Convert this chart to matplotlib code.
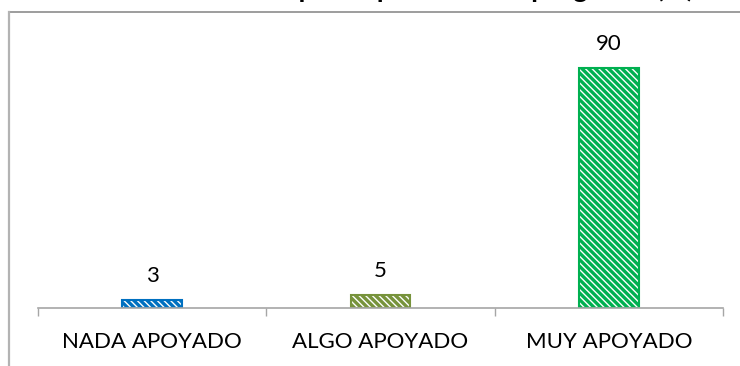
import matplotlib.pyplot as plt
from matplotlib.lines import Line2D

categories = ['NADA APOYADO', 'ALGO APOYADO', 'MUY APOYADO']
values = [3, 5, 90]
colors = ['#0070C0', '#77933C', '#00B050']
title = 'Grado de participación en el programa (%)'

W, H = 740, 366
plt.rcParams['font.family'] = ['Lato', 'DejaVu Sans']
plt.rcParams['hatch.linewidth'] = 2.4

fig = plt.figure(figsize=(W / 100, H / 100), dpi=100)

# chart area border (only top and left edges fall inside the picture)
fig.add_artist(Line2D([9 / W, 1.0], [1 - 12 / H, 1 - 12 / H], color='#8c8c8c', lw=1.2))
fig.add_artist(Line2D([9 / W, 9 / W], [0.0, 1 - 12 / H], color='#b3b3b3', lw=1.6))

# title, cut off by the top edge
fig.text(178 / W, 1 + 3.5 / H, title, ha='left', va='baseline',
         fontsize=20, fontweight='bold')

ax = fig.add_axes([38 / W, 58 / H, (723 - 38) / W, (308 - 41) / H])
x = range(len(categories))
bars = ax.bar(x, values, width=0.26, color='white', edgecolor=colors,
              hatch='\\' * 5, linewidth=1.5)

for xi, v in zip(x, values):
    ax.annotate(str(v), (xi, v), xytext=(0, 10), textcoords='offset points',
                ha='center', va='bottom', fontsize=16)

ax.set_xlim(-0.5, 2.5)
ax.set_ylim(0, 100)
ax.set_xticks(list(x))
ax.set_xticklabels(categories, fontsize=16)
ax.tick_params(axis='x', which='major', length=0, pad=17.5)
ax.set_xticks([-0.5, 0.5, 1.5, 2.5], minor=True)
ax.tick_params(axis='x', which='minor', length=6, color='#a6a6a6', width=1)
ax.set_yticks([])
for s in ['top', 'right', 'left']:
    ax.spines[s].set_visible(False)
ax.spines['bottom'].set_color('#a6a6a6')
ax.spines['bottom'].set_linewidth(1.2)

fig.savefig('out.png', dpi=100)
